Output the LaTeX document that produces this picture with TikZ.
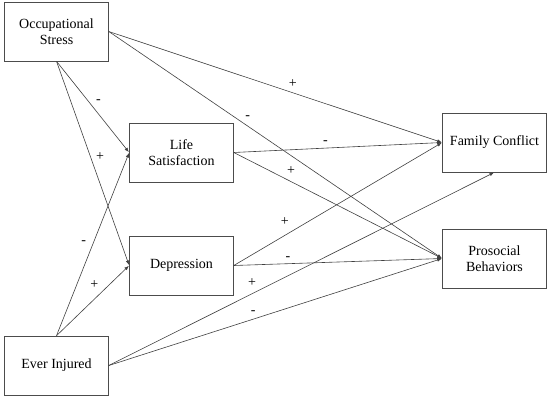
\documentclass[tikz,border=0pt]{standalone}
\usepackage{fontspec}
\setmainfont{Liberation Serif}
\usetikzlibrary{arrows.meta,positioning}

\begin{document}
\begin{tikzpicture}[x=1pt,y=1pt,shorten >=0.5pt,on grid,auto,
    >={Latex[length=4.5pt,width=3.5pt]},
    var/.style={draw=black!70,line width=0.6pt,minimum width=104pt,minimum height=59pt,
      align=center,inner sep=2pt,font=\fontsize{14}{16}\selectfont},
    sign/.style={font=\fontsize{14}{16}\selectfont,inner sep=3pt},
    every edge/.style={draw=black!75,line width=0.6pt}]
   \useasboundingbox (0,0) rectangle (550,-400);
   \node[var] (OS) at (56.5,-31.5) {Occupational\\Stress};

   \node[var] (LS) [below right=121pt and 125pt of OS] {Life\\Satisfaction};
   \node[var] (Dep) [below=113pt of LS] {Depression};
   \node[var] (EI) [below=334pt of OS] {Ever Injured};
   \node[var] (FC) [above right=10pt and 313pt of LS] {Family Conflict};
   \node[var] (PB) [below=116pt of FC] {Prosocial\\Behaviors};
    \path[->]
    (OS.east) edge node[sign,pos=0.53] {+} (FC.west)
              edge node[sign,pos=0.4] {-} (PB.west)
    (OS.south) edge node[sign,pos=0.5] {-} (LS.west)
               edge node[sign,pos=0.5] {+} (Dep.west)
    (EI.north) edge node[sign,pos=0.48,xshift=-2pt] {-} (LS.west)
               edge node[sign,pos=0.62] {+} (Dep.west)
    (LS.east) edge node[sign,pos=0.44] {-} (FC.west)
              edge node[sign,pos=0.24] {+} (PB.west)
    (Dep.east) edge node[sign,pos=0.28,yshift=2pt] {+} (FC.west)
               edge node[sign,pos=0.26] {-} (PB.west)
    (EI.east) edge node[sign,pos=0.39] {+} (FC.south)
              edge node[sign,pos=0.45] {-} (PB.west);
\end{tikzpicture}
\end{document}
